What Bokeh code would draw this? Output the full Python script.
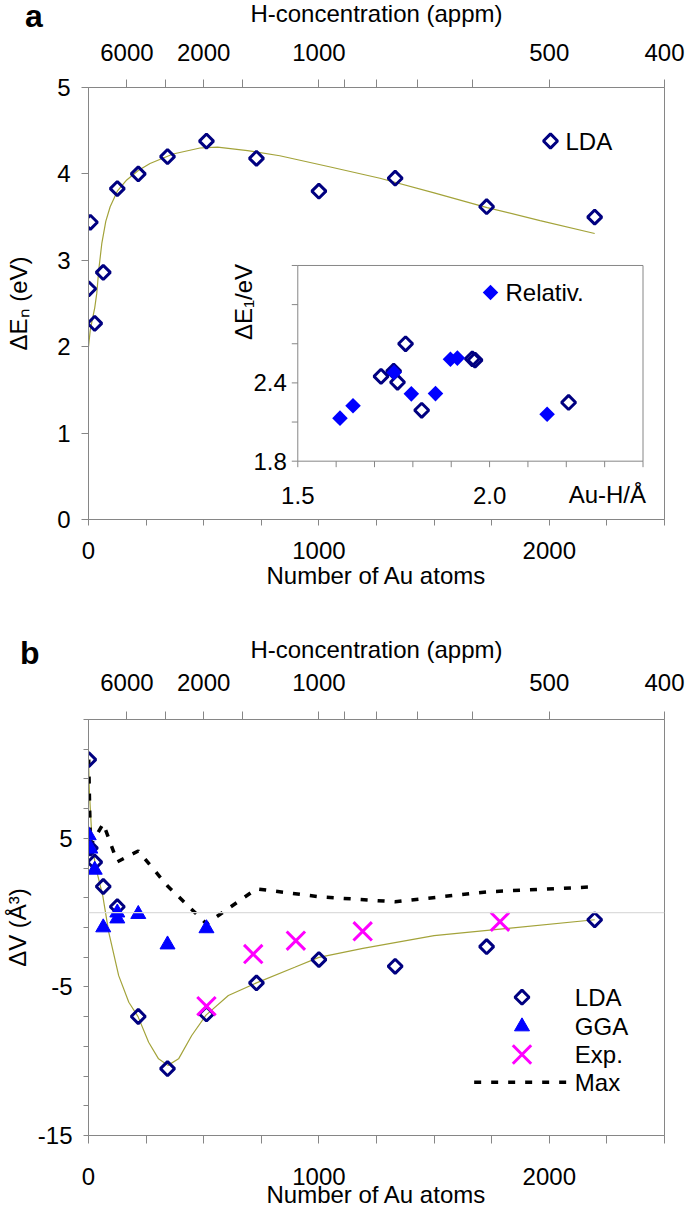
import math
from bokeh.plotting import figure
from bokeh.models import Range1d, LinearAxis, FixedTicker, CustomJSTickFormatter, Span, Div
from bokeh.layouts import column
from bokeh.embed import file_html
from bokeh.resources import INLINE
from bokeh.core.properties import value

# ---------------- data ----------------
# panel a: formation energy vs number of Au atoms
n_atoms_a = [1, 8, 27, 64, 125, 216, 343, 512, 729, 1000, 1331, 1728, 2197]
dE_lda = [2.67, 3.44, 2.27, 2.86, 3.83, 4.00, 4.20, 4.38, 4.18, 3.80, 3.95, 3.62, 3.50]
fitA_n = [0, 8, 18, 27, 36, 45, 58, 75, 94, 125, 166, 216, 267, 367, 484, 560, 690,
          830, 1050, 1265, 1500, 1730, 1960, 2197]
fitA_e = [2.00, 2.20, 2.33, 2.45, 2.62, 2.90, 3.20, 3.45, 3.62, 3.80, 3.93, 4.04, 4.12,
          4.23, 4.30, 4.31, 4.27, 4.21, 4.08, 3.95, 3.78, 3.61, 3.46, 3.31]

# inset: dE1 vs Au-H distance
auh_lda = [1.717, 1.750, 1.760, 1.781, 1.823, 1.955, 1.962, 2.206]
dE1_lda = [2.45, 2.49, 2.405, 2.70, 2.19, 2.585, 2.575, 2.25]
auh_rel = [1.610, 1.644, 1.751, 1.796, 1.859, 1.898, 1.916, 2.150]
dE1_rel = [2.13, 2.225, 2.48, 2.316, 2.318, 2.582, 2.59, 2.16]

# panel b: volume change
n_lda_b = [1, 8, 27, 64, 125, 216, 343, 512, 729, 1000, 1331, 1728, 2197]
dV_lda = [10.3, 4.35, 3.40, 1.76, 0.40, -6.99, -10.5, -6.82, -4.73, -3.16, -3.61, -2.29, -0.48]
n_gga = [1, 8, 27, 64, 125, 125, 216, 343, 512]
dV_gga = [5.2, 4.3, 2.88, -1.0, 0.0, -0.4, -0.1, -2.15, -1.06]
n_exp = [512, 715, 900, 1190, 1786]
dV_exp = [-6.30, -2.79, -1.89, -1.26, -0.61]
n_max = [1, 8, 64, 125, 216, 343, 512, 729, 1000, 1331, 1728, 2197]
dV_max = [10.3, 4.5, 6.0, 3.42, 4.15, 1.8, -0.75, 1.6, 1.07, 0.73, 1.4, 1.74]
fitB_n = [0, 4, 16, 30, 62, 88, 131, 175, 215, 261, 304, 345, 391, 448, 510, 607, 729,
          895, 1000, 1191, 1500, 1786, 2197]
fitB_v = [10.3, 8.07, 4.71, 3.15, 1.13, -1.33, -4.24, -6.03, -7.0, -8.72, -9.84, -10.28,
          -9.84, -8.27, -6.9, -5.58, -4.73, -3.68, -3.01, -2.40, -1.55, -1.11, -0.48]

# axis ticks
appm_ticks = [6000, 3000, 2000, 1500, 1000, 900, 800, 700, 600, 500, 400]
appm_labels = [6000, 2000, 1000, 500, 400]
x_ticks = list(range(0, 2501, 250))
x_labels = [0, 1000, 2000]
ya_ticks = [0, 1, 2, 3, 4, 5]
yb_ticks = list(range(-15, 14, 2))
yb_labels = [-15, -5, 5]
inset_x_ticks = [1.5, 1.6, 1.7, 1.8, 1.9, 2.0, 2.1, 2.2, 2.3, 2.4]
inset_x_labels = ["1.5", "2.0"]
inset_y_ticks = [1.8, 2.1, 2.4, 2.7, 3.0, 3.3]
inset_y_labels = ["1.8", "2.4"]

# ---------------- style / layout ----------------
FONT = "Liberation Sans"
FS = "24px"
GRAY = "#868686"
NAVY = "#000080"
BLUE = "#0000ff"
MAG = "#ff00ff"
OLIVE = "#a3a33a"
W = 685
ROOT_Y = -13          # page y of the top of the layout
TOP_A, FR_A, BOT_A = 100, 432, 76
TOP_B, FR_B, BOT_B = 124, 416, 80
H_A = TOP_A + FR_A + BOT_A
H_B = TOP_B + FR_B + BOT_B
PA_T = ROOT_Y + TOP_A              # page y of panel-a frame top
PB_T = ROOT_Y + H_A + TOP_B        # page y of panel-b frame top


def style_axis(ax, tick_out, standoff, label_standoff):
    ax.axis_line_color = GRAY
    ax.major_tick_line_color = GRAY
    ax.major_tick_in = 0
    ax.major_tick_out = tick_out
    ax.minor_tick_line_color = None
    ax.major_label_text_font = FONT
    ax.major_label_text_font_size = FS
    ax.major_label_text_color = "black"
    ax.major_label_standoff = standoff
    ax.axis_label_text_font = FONT
    ax.axis_label_text_font_size = FS
    ax.axis_label_text_font_style = "normal"
    ax.axis_label_text_color = "black"
    ax.axis_label_standoff = label_standoff


def fmt_list(labels):
    return CustomJSTickFormatter(args=dict(labels=labels),
                                 code="return labels.includes(tick) ? String(tick) : '';")


def top_axis(standoff, label_standoff):
    ax = LinearAxis(ticker=FixedTicker(ticks=[1e6 / a for a in appm_ticks], minor_ticks=[]),
                    formatter=CustomJSTickFormatter(args=dict(labels=appm_labels), code="""
                        const a = Math.round(1e6 / tick);
                        return labels.includes(a) ? String(a) : '';"""),
                    axis_label="H-concentration (appm)")
    style_axis(ax, 8, standoff, label_standoff)
    return ax


def txt(p, x, y, s, align="left", angle=0.0, **kw):
    p.text(x=x, y=y, text=s, text_font=value(FONT), text_font_size=value(FS),
           text_color="black", text_align=align, text_baseline="middle", angle=angle, **kw)


# ================= panel a =================
pa = figure(width=W, height=H_A, x_range=Range1d(0, 2500), y_range=Range1d(0, 5),
            output_backend="svg", toolbar_location=None,
            min_border_left=88, min_border_right=21, min_border_top=TOP_A, min_border_bottom=BOT_A,
            outline_line_color=GRAY)
pa.grid.visible = False
pa.xaxis.ticker = FixedTicker(ticks=x_ticks, minor_ticks=[])
pa.xaxis.formatter = fmt_list(x_labels)
pa.xaxis.axis_label = "Number of Au atoms"
style_axis(pa.xaxis[0], 6, 16, 0)
pa.yaxis.ticker = FixedTicker(ticks=ya_ticks, minor_ticks=[])
pa.yaxis.axis_label = "ΔEₙ (eV)"
style_axis(pa.yaxis[0], 7, 11, 22)
pa.add_layout(top_axis(19, 14), "above")


def pa_xy(px, py):  # page pixel -> panel-a data (layout helper)
    return (px - 88) * 2500 / 576, 5 - (py - PA_T) * 5 / FR_A


pa.line(fitA_n, fitA_e, line_color=OLIVE, line_width=1.2)
pa.scatter(n_atoms_a, dE_lda, marker="square", angle=math.pi / 4, size=10,
           fill_color=None, line_color=NAVY, line_width=3)

# legend panel a
lx, ly = pa_xy(550, 140.5)
pa.scatter([lx], [ly], marker="square", angle=math.pi / 4, size=10,
           fill_color=None, line_color=NAVY, line_width=3)
tx, ty = pa_xy(565, 140.5)
txt(pa, [tx], [ty], ["LDA"])

# ---- inset (drawn in panel a through extra ranges) ----
IN_N0, IN_N1 = 908.4, 2406.7    # panel-a x extent of the inset frame
IN_E0, IN_E1 = 0.675, 2.94      # panel-a y extent of the inset frame
IU0, IU1 = 1.5, 2.4
IW0, IW1 = 1.8, 3.3


def lin(v, a0, a1, b0, b1):
    return b0 + (v - a0) * (b1 - b0) / (a1 - a0)


pa.extra_x_ranges = {"ix": Range1d(lin(0, IN_N0, IN_N1, IU0, IU1), lin(2500, IN_N0, IN_N1, IU0, IU1))}
pa.extra_y_ranges = {"iy": Range1d(lin(0, IN_E0, IN_E1, IW0, IW1), lin(5, IN_E0, IN_E1, IW0, IW1))}
PXU = (IU1 - IU0) / ((IN_N1 - IN_N0) * 576 / 2500)   # inset x units per pixel
PXW = (IW1 - IW0) / ((IN_E1 - IN_E0) * FR_A / 5)     # inset y units per pixel
IK = dict(x_range_name="ix", y_range_name="iy")

pa.quad(left=[IU0], right=[IU1], bottom=[IW0], top=[IW1], fill_color="white",
        line_color=GRAY, line_width=1, **IK)
pa.segment(x0=inset_x_ticks, y0=[IW0] * len(inset_x_ticks), x1=inset_x_ticks,
           y1=[IW0 - 6 * PXW] * len(inset_x_ticks), line_color=GRAY, line_width=1, **IK)
pa.segment(x0=[IU0] * len(inset_y_ticks), y0=inset_y_ticks, x1=[IU0 - 6 * PXU] * len(inset_y_ticks),
           y1=inset_y_ticks, line_color=GRAY, line_width=1, **IK)
txt(pa, [float(s) for s in inset_x_labels], [IW0 - 34 * PXW] * 2, inset_x_labels, align="center", **IK)
txt(pa, [2.307], [IW0 - 33 * PXW], ["Au-H/Å"], align="center", **IK)
txt(pa, [IU0 - 11 * PXU] * 2, [float(s) for s in inset_y_labels], inset_y_labels, align="right", **IK)
txt(pa, [IU0 - 54 * PXU], [3.02], ["ΔE₁/eV"], align="center", angle=math.pi / 2, **IK)

pa.scatter(auh_lda, dE1_lda, marker="square", angle=math.pi / 4, size=10,
           fill_color=None, line_color=NAVY, line_width=3, **IK)
pa.scatter(auh_rel, dE1_rel, marker="square", angle=math.pi / 4, size=11,
           fill_color=BLUE, line_color=None, **IK)
rx, ry = pa_xy(490, 292)
pa.scatter([rx], [ry], marker="square", angle=math.pi / 4, size=11, fill_color=BLUE, line_color=None)
tx, ty = pa_xy(505, 292)
txt(pa, [tx], [ty], ["Relativ."])

# ================= panel b =================
pb = figure(width=W, height=H_B, x_range=Range1d(0, 2500), y_range=Range1d(-15, 13),
            output_backend="svg", toolbar_location=None,
            min_border_left=86, min_border_right=21, min_border_top=TOP_B, min_border_bottom=BOT_B,
            outline_line_color=GRAY)
pb.grid.visible = False
pb.xaxis.ticker = FixedTicker(ticks=x_ticks, minor_ticks=[])
pb.xaxis.formatter = fmt_list(x_labels)
pb.xaxis.axis_label = "Number of Au atoms"
style_axis(pb.xaxis[0], 8, 24, -7)
pb.yaxis.ticker = FixedTicker(ticks=yb_ticks, minor_ticks=[])
pb.yaxis.formatter = fmt_list(yb_labels)
pb.yaxis.axis_label = "ΔV (Å³)"
style_axis(pb.yaxis[0], 5, 11, 4)
pb.add_layout(top_axis(21, 8), "above")
pb.add_layout(Span(location=0, dimension="width", line_color="#dcdcdc", line_width=1.2))


def pb_xy(px, py):  # page pixel -> panel-b data (layout helper)
    return (px - 86) * 2500 / 578, 13 - (py - PB_T) * 28 / FR_B


pb.line(fitB_n, fitB_v, line_color=OLIVE, line_width=1.2)
pb.line(n_max, dV_max, line_color="black", line_width=3.5, line_dash="7 10")
pb.scatter(n_lda_b, dV_lda, marker="square", angle=math.pi / 4, size=10,
           fill_color=None, line_color=NAVY, line_width=3)
pb.scatter(n_gga, dV_gga, marker="triangle", size=15, fill_color=BLUE, line_color=BLUE, line_width=1)
pb.scatter(n_exp, dV_exp, marker="x", size=26, line_color=MAG, line_width=3)

# legend panel b
kx, k1 = pb_xy(521, 996.7)
_, k2 = pb_xy(521, 1026)
_, k3 = pb_xy(521, 1054)
mx0, k4 = pb_xy(473, 1081.7)
mx1, _ = pb_xy(568, 1081.7)
pb.scatter([kx], [k1], marker="square", angle=math.pi / 4, size=10,
           fill_color=None, line_color=NAVY, line_width=3)
pb.scatter([kx], [k2], marker="triangle", size=15, fill_color=BLUE, line_color=BLUE, line_width=1)
pb.scatter([kx], [k3], marker="x", size=26, line_color=MAG, line_width=3)
pb.segment(x0=[mx0], y0=[k4], x1=[mx1], y1=[k4], line_color="black", line_width=3.5, line_dash="7 10")
lxb, _ = pb_xy(574, 0)
txt(pb, [lxb] * 4, [k1, k2, k3, k4], ["LDA", "GGA", "Exp.", "Max"])


# panel letters (absolutely positioned over the figures)
def letter(s, left, top):
    return Div(text=s, width=30, height=36,
               styles={"position": "absolute", "left": f"{left}px", "top": f"{top}px",
                       "font-family": FONT, "font-size": "32px", "font-weight": "bold",
                       "line-height": "32px", "margin": "0", "padding": "0", "color": "black"})


div_a = letter("a", 25, 0 - ROOT_Y)
div_b = letter("b", 20, 637 - ROOT_Y)

page = column(pa, pb, div_a, div_b,
              styles={"margin-top": f"{ROOT_Y}px", "position": "relative"})
open("out.html", "w").write(file_html(page, INLINE))
